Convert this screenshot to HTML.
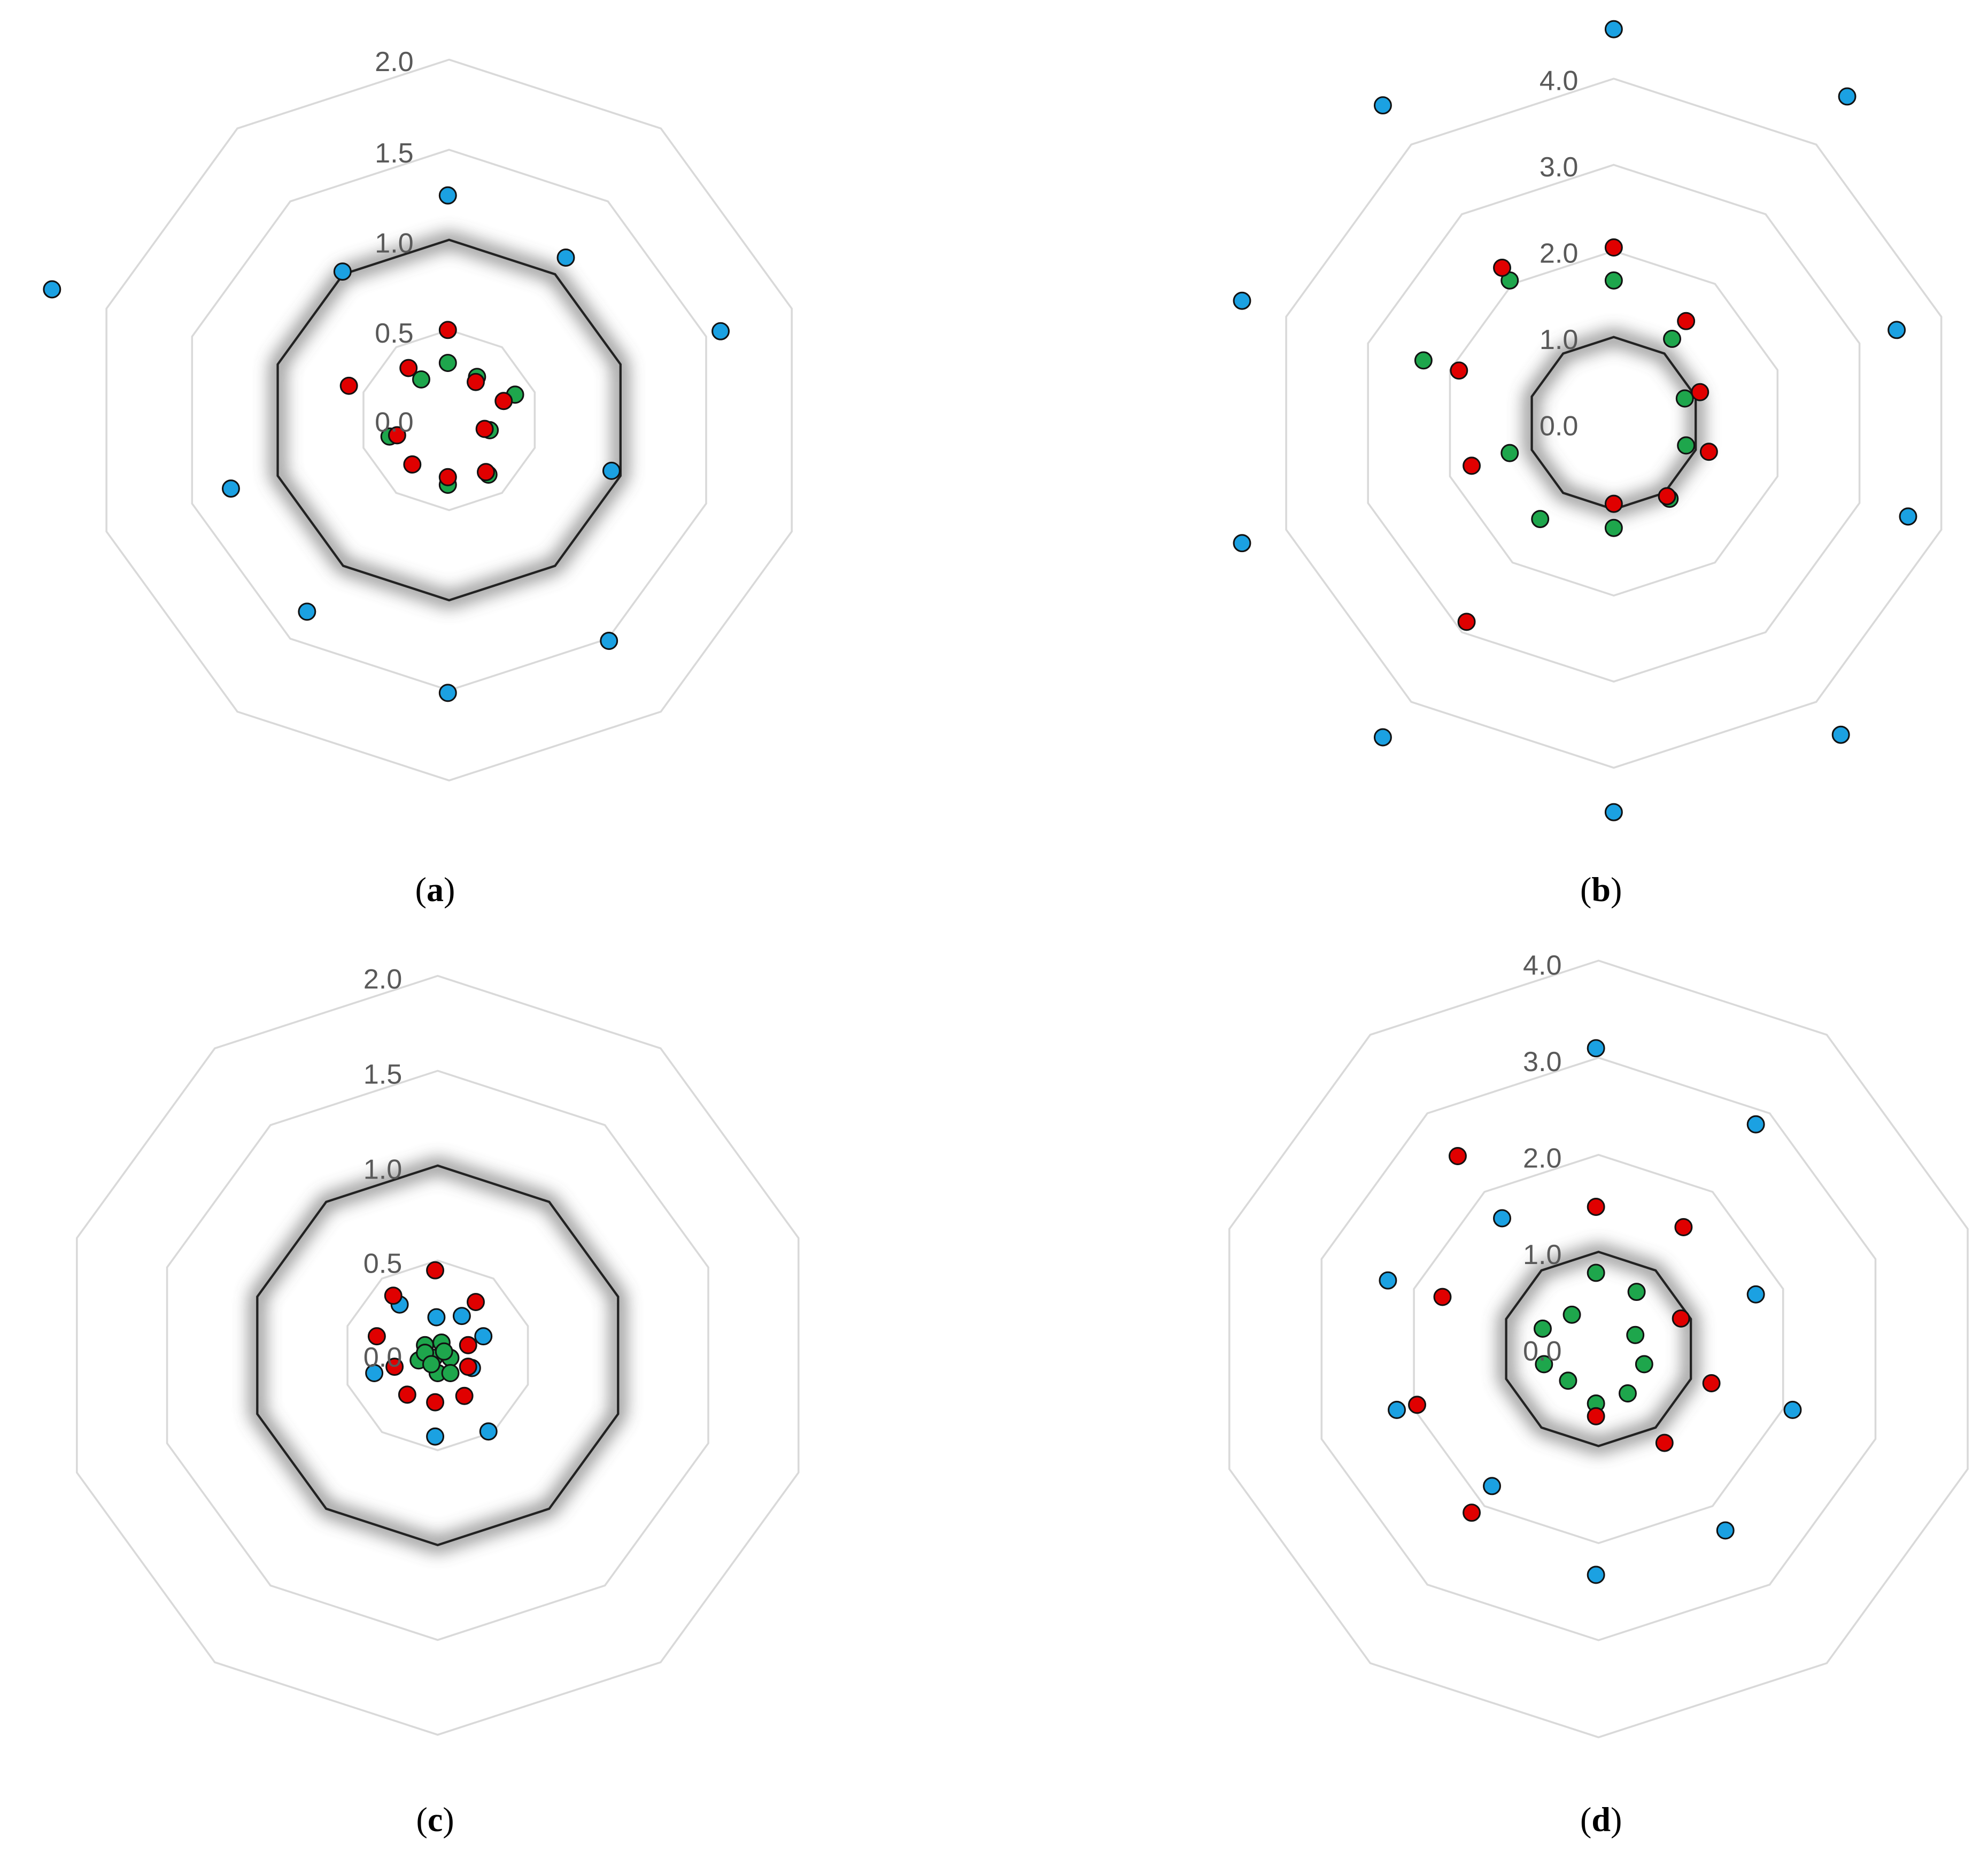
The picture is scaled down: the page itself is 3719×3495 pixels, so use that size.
<!DOCTYPE html>
<html><head><meta charset="utf-8"><style>
html,body{margin:0;padding:0;background:#fff;}
svg{display:block}
.lab{font-family:"Liberation Sans","DejaVu Sans",sans-serif;font-size:22px;fill:#595959;text-anchor:end}
.cap{font-family:"Liberation Serif",serif;font-size:27px;fill:#000;text-anchor:middle}
</style></head><body>
<svg id="s" width="3719" height="3495" viewBox="0 0 1567 1472" preserveAspectRatio="none" xmlns="http://www.w3.org/2000/svg">
<defs><filter id="g" x="-50%" y="-50%" width="200%" height="200%"><feGaussianBlur stdDeviation="7"/></filter></defs>
<g id="rings"></g>
<g id="dots"></g>
<text class="lab" x="326" y="56">2.0</text><text class="lab" x="326" y="128">1.5</text><text class="lab" x="326" y="199">1.0</text><text class="lab" x="326" y="270">0.5</text><text class="lab" x="326" y="340">0.0</text>
<text class="lab" x="1244" y="71">4.0</text><text class="lab" x="1244" y="139">3.0</text><text class="lab" x="1244" y="207">2.0</text><text class="lab" x="1244" y="275">1.0</text><text class="lab" x="1244" y="343">0.0</text>
<text class="lab" x="317" y="779">2.0</text><text class="lab" x="317" y="854">1.5</text><text class="lab" x="317" y="929">1.0</text><text class="lab" x="317" y="1003">0.5</text><text class="lab" x="317" y="1077">0.0</text>
<text class="lab" x="1231" y="768">4.0</text><text class="lab" x="1231" y="844">3.0</text><text class="lab" x="1231" y="920">2.0</text><text class="lab" x="1231" y="996">1.0</text><text class="lab" x="1231" y="1072">0.0</text>
<text class="cap" x="343" y="710">(<tspan font-weight="bold">a</tspan>)</text>
<text class="cap" x="1262" y="710">(<tspan font-weight="bold">b</tspan>)</text>
<text class="cap" x="343" y="1443">(<tspan font-weight="bold">c</tspan>)</text>
<text class="cap" x="1262" y="1443">(<tspan font-weight="bold">d</tspan>)</text>
</svg>
<script>
var NS="http://www.w3.org/2000/svg";
function dec(cx,cy,r){var p=[];for(var i=0;i<10;i++){var a=i*Math.PI/5;p.push((cx+r*Math.sin(a)).toFixed(1)+","+(cy-r*Math.cos(a)).toFixed(1));}return p.join(" ");}
var R=document.getElementById("rings");
function poly(pts,attrs){var e=document.createElementNS(NS,"polygon");e.setAttribute("points",pts);for(var k in attrs)e.setAttribute(k,attrs[k]);R.appendChild(e);}
var P=[[354,331,284,4,2],[1272,333.5,271.5,4,1],[345,1068,299,4,2],[1260,1063,306,4,1]];
P.forEach(function(p){var cx=p[0],cy=p[1],r=p[2],st=r/4;
 for(var i=1;i<=4;i++)poly(dec(cx,cy,st*i),{fill:"none",stroke:"#d9d9d9","stroke-width":1.5});
 var br=st*p[4];
 poly(dec(cx,cy,br),{fill:"none",stroke:"#555","stroke-width":10,filter:"url(#g)",opacity:0.8});
 poly(dec(cx,cy,br),{fill:"none",stroke:"#222","stroke-width":1.8});
});
var D=document.getElementById("dots");
var C={b:"#1ba1e2",r:"#e00000",g:"#1ea64c"};
var data={
b:[[41,228],[353,154],[270,214],[446,203],[568,261],[482,371],[182,385],[242,482],[480,505],[353,546],
[1272,23],[1090,83],[1456,76],[979,237],[1495,260],[1504,407],[979,428],[1090,581],[1451,579],[1272,640],
[315,1028],[344,1038],[364,1037],[381,1053],[295,1082],[372,1078],[343,1132],[385,1128],
[1258,826],[1384,886],[1184,960],[1094,1009],[1384,1020],[1101,1111],[1413,1111],[1176,1171],[1360,1206],[1258,1241]],
g:[[353,286],[332,299],[376,297],[406,311],[386,339],[307,344],[385,374],[353,382],
[1190,221],[1272,221],[1122,284],[1318,267],[1328,314],[1329,351],[1190,357],[1316,393],[1214,409],[1272,416],
[1258,1003],[1290,1018],[1239,1036],[1216,1047],[1289,1052],[1296,1075],[1217,1075],[1236,1088],[1283,1098],[1258,1106]],
r:[[353,260],[322,290],[375,301],[275,304],[397,316],[382,338],[313,343],[325,366],[383,372],[353,376],
[1272,195],[1184,211],[1329,253],[1150,292],[1340,309],[1160,367],[1347,356],[1272,397],[1314,391],[1156,490],
[343,1001],[310,1021],[375,1026],[297,1053],[369,1060],[311,1077],[369,1077],[321,1099],[343,1105],[366,1100],
[1149,911],[1258,951],[1327,967],[1137,1022],[1325,1039],[1349,1090],[1117,1107],[1258,1116],[1312,1137],[1160,1192]],
g2:[[335,1060],[348,1058],[330,1072],[342,1070],[355,1070],[335,1066],[345,1082],[355,1082],[340,1075],[350,1065]]
};
["b","g","r","g2"].forEach(function(k){var col=C[k[0]];data[k].forEach(function(d){var c=document.createElementNS(NS,"circle");c.setAttribute("cx",d[0]);c.setAttribute("cy",d[1]);c.setAttribute("r",6.5);c.setAttribute("fill",col);c.setAttribute("stroke","#111");c.setAttribute("stroke-width",1.3);D.appendChild(c);});});
</script>
</body></html>
